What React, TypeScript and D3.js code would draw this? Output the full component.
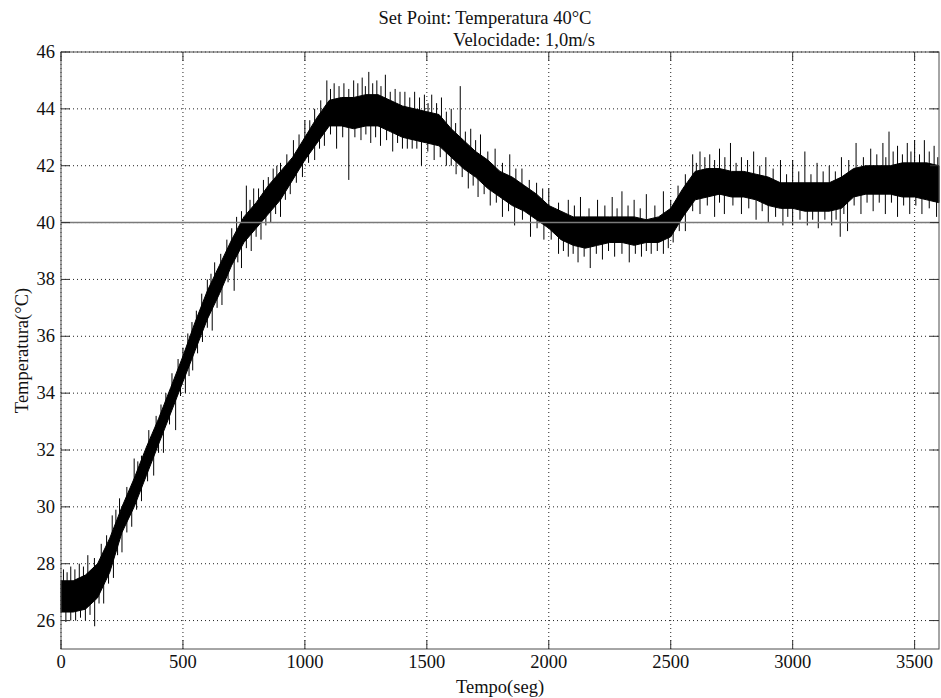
import React from "react";
import * as d3 from "d3";

const W = 941;
const H = 698;
const margin = { top: 52, right: 2, bottom: 49, left: 61 };
const font = "'Liberation Serif', 'Times New Roman', serif";

// tempo (s) and the dense core of the measured signal (min / max per step)
const tempo = [
  0, 50, 100, 150, 200, 250, 300, 350, 400, 450, 500, 550, 600, 650, 700, 750,
  800, 850, 900, 950, 1000, 1050, 1100, 1150, 1200, 1250, 1300, 1350, 1400,
  1450, 1500, 1550, 1600, 1650, 1700, 1750, 1800, 1850, 1900, 1950, 2000, 2050,
  2100, 2150, 2200, 2250, 2300, 2350, 2400, 2450, 2500, 2550, 2600, 2650, 2700,
  2750, 2800, 2850, 2900, 2950, 3000, 3050, 3100, 3150, 3200, 3250, 3300, 3350,
  3400, 3450, 3500, 3550, 3600,
];
const tempMax = [
  27.4, 27.4, 27.6, 28.0, 28.9, 30.0, 31.0, 32.1, 33.1, 34.2, 35.3, 36.5, 37.6,
  38.5, 39.4, 40.2, 40.7, 41.3, 41.8, 42.3, 43.0, 43.7, 44.3, 44.4, 44.4, 44.5,
  44.5, 44.3, 44.1, 44.0, 43.9, 43.8, 43.3, 42.9, 42.5, 42.2, 41.8, 41.6, 41.3,
  41.0, 40.6, 40.4, 40.2, 40.2, 40.2, 40.2, 40.2, 40.2, 40.1, 40.2, 40.5, 41.2,
  41.8, 41.9, 41.9, 41.8, 41.8, 41.7, 41.6, 41.4, 41.4, 41.4, 41.4, 41.4, 41.6,
  41.9, 42.0, 42.0, 42.0, 42.1, 42.1, 42.1, 42.0,
];
const tempMin = [
  26.3, 26.3, 26.4, 26.8, 27.7, 29.1, 30.0, 31.1, 32.2, 33.3, 34.4, 35.5, 36.6,
  37.5, 38.5, 39.3, 39.8, 40.3, 40.8, 41.5, 42.2, 42.8, 43.4, 43.4, 43.3, 43.4,
  43.4, 43.2, 43.0, 42.9, 42.8, 42.7, 42.3, 41.9, 41.6, 41.2, 40.9, 40.6, 40.4,
  40.1, 39.8, 39.4, 39.2, 39.1, 39.2, 39.3, 39.3, 39.2, 39.3, 39.3, 39.5, 40.2,
  40.8, 40.9, 41.0, 40.9, 40.9, 40.8, 40.6, 40.5, 40.5, 40.4, 40.4, 40.4, 40.5,
  40.9, 41.0, 41.0, 41.0, 40.9, 40.9, 40.8, 40.7,
];

// big noise spikes that stick out of the core (upwards)
const picoAltoTempo = [
  10, 40, 75, 110, 165, 210, 240, 300, 330, 390, 430, 480, 520, 555, 600, 630,
  680, 720, 760, 790, 830, 870, 900, 953, 1000, 1040, 1090, 1120, 1160, 1200,
  1235, 1262, 1295, 1330, 1370, 1410, 1450, 1490, 1520, 1560, 1600, 1637, 1680,
  1720, 1780, 1840, 1890, 1950, 2000, 2080, 2130, 2200, 2260, 2300, 2350, 2400,
  2470, 2530, 2590, 2620, 2660, 2700, 2745, 2790, 2840, 2890, 2950, 3000, 3050,
  3100, 3150, 3200, 3260, 3320, 3370, 3395, 3430, 3470, 3500, 3540, 3580,
];
const picoAltoValor = [
  27.8, 27.9, 28.0, 28.3, 28.7, 29.7, 30.3, 31.7, 31.8, 33.2, 34.0, 35.2, 36.1,
  36.9, 38.0, 38.6, 39.4, 40.2, 41.3, 41.2, 41.5, 41.9, 42.1, 42.9, 43.6, 44.0,
  45.0, 44.9, 44.9, 45.0, 45.1, 45.3, 45.0, 45.2, 44.7, 44.6, 44.6, 44.5, 44.5,
  44.4, 44.0, 44.8, 43.3, 43.1, 42.6, 42.4, 41.9, 41.4, 41.2, 40.8, 40.9, 40.8,
  40.9, 41.1, 40.8, 41.0, 41.1, 41.3, 42.4, 42.5, 42.4, 42.6, 42.8, 42.3, 42.5,
  42.3, 42.2, 42.2, 42.5, 42.1, 42.0, 42.3, 42.8, 42.6, 42.8, 43.2, 42.7, 42.8,
  42.9, 42.9, 42.7,
];

// big noise spikes that stick out of the core (downwards)
const picoBaixoTempo = [
  20, 60, 100, 138, 175, 215, 250, 290, 330, 380, 420, 470, 510, 540, 580, 620,
  660, 710, 740, 780, 820, 860, 900, 940, 990, 1040, 1080, 1130, 1180, 1230,
  1270, 1310, 1360, 1400, 1440, 1478, 1530, 1580, 1620, 1670, 1710, 1760, 1810,
  1860, 1925, 1980, 2040, 2080, 2120, 2170, 2220, 2270, 2330, 2380, 2420, 2470,
  2510, 2560, 2620, 2680, 2720, 2790, 2850, 2900, 2960, 3000, 3060, 3105, 3160,
  3195, 3225, 3280, 3330, 3380, 3430, 3480, 3530, 3590,
];
const picoBaixoValor = [
  25.95, 26.0, 26.0, 25.8, 26.6, 27.5, 28.4, 29.3, 30.2, 31.1, 31.9, 32.7, 34.0,
  34.8, 35.8, 36.2, 37.1, 37.6, 38.4, 39.0, 39.4, 40.0, 40.2, 41.0, 41.6, 42.2,
  42.7, 42.6, 41.5, 42.9, 42.8, 42.7, 42.5, 42.6, 42.6, 42.0, 42.2, 42.0, 41.7,
  41.2, 40.9, 40.6, 40.2, 39.9, 39.5, 39.4, 38.9, 38.8, 38.6, 38.4, 38.7, 38.8,
  38.6, 38.8, 38.9, 38.9, 39.3, 39.7, 40.3, 40.2, 40.3, 40.3, 40.1, 40.0, 39.9,
  39.9, 39.9, 39.8, 39.9, 39.5, 39.7, 40.3, 40.4, 40.3, 40.2, 40.3, 40.3, 40.2,
];

// small hairs on the upper edge of the core
const ruidoAltoTempo = [
  25, 57, 92, 137, 187, 225, 270, 315, 360, 410, 455, 500, 537, 577, 615, 655,
  700, 740, 775, 810, 850, 885, 926, 976, 1020, 1065, 1105, 1140, 1180, 1217,
  1248, 1278, 1312, 1350, 1390, 1430, 1470, 1505, 1540, 1580, 1618, 1658, 1700,
  1750, 1810, 1865, 1920, 1975, 2040, 2105, 2165, 2230, 2280, 2325, 2375, 2435,
  2500, 2560, 2605, 2640, 2680, 2722, 2768, 2815, 2865, 2920, 2975, 3025, 3075,
  3125, 3175, 3230, 3290, 3345, 3382, 3412, 3450, 3485, 3520, 3560, 3595,
];
const ruidoAltoValor = [
  27.7, 27.8, 27.9, 28.2, 29.0, 29.9, 30.7, 31.6, 32.7, 33.6, 34.7, 35.6, 36.5,
  37.5, 38.2, 38.9, 39.8, 40.4, 40.8, 41.2, 41.6, 42.0, 42.4, 43.1, 43.6, 44.3,
  44.7, 44.8, 44.7, 44.9, 44.8, 44.9, 44.8, 44.6, 44.6, 44.4, 44.4, 44.2, 44.2,
  43.9, 43.5, 43.2, 42.9, 42.5, 42.1, 41.9, 41.5, 41.2, 40.7, 40.6, 40.5, 40.6,
  40.5, 40.6, 40.5, 40.6, 40.8, 41.7, 42.1, 42.3, 42.2, 42.3, 42.1, 42.2, 42.0,
  41.9, 41.7, 41.8, 41.7, 41.8, 41.8, 42.2, 42.3, 42.4, 42.3, 42.5, 42.4, 42.5,
  42.4, 42.5, 42.3,
];

// small hairs on the lower edge of the core
const ruidoBaixoTempo = [
  40, 80, 119, 156, 195, 232, 270, 310, 355, 400, 445, 490, 525, 560, 600, 640,
  685, 725, 760, 800, 840, 880, 920, 965, 1015, 1060, 1105, 1155, 1205, 1250,
  1290, 1335, 1380, 1420, 1459, 1504, 1555, 1600, 1645, 1690, 1735, 1785, 1835,
  1892, 1952, 2010, 2060, 2100, 2145, 2195, 2245, 2300, 2355, 2400, 2445, 2490,
  2535, 2590, 2650, 2700, 2755, 2820, 2875, 2930, 2980, 3030, 3082, 3132, 3178,
  3210, 3252, 3305, 3355, 3405, 3455, 3505, 3560,
];
const ruidoBaixoValor = [
  26.0, 26.1, 26.2, 26.6, 27.3, 28.3, 29.1, 29.9, 30.9, 31.9, 32.9, 33.9, 34.6,
  35.4, 36.3, 37.0, 37.9, 38.6, 39.1, 39.5, 39.9, 40.3, 40.8, 41.4, 42.1, 42.6,
  43.1, 43.0, 43.0, 43.1, 43.0, 42.9, 42.8, 42.6, 42.6, 42.5, 42.3, 42.0, 41.6,
  41.3, 41.0, 40.7, 40.4, 40.1, 39.8, 39.4, 39.0, 38.9, 38.8, 38.9, 39.0, 38.9,
  38.9, 39.0, 39.0, 39.1, 39.7, 40.4, 40.6, 40.7, 40.6, 40.5, 40.4, 40.2, 40.2,
  40.1, 40.1, 40.1, 40.1, 40.3, 40.6, 40.7, 40.7, 40.7, 40.6, 40.6, 40.5,
];

const xTicks = [0, 500, 1000, 1500, 2000, 2500, 3000, 3500];
const yTicks = [26, 28, 30, 32, 34, 36, 38, 40, 42, 44, 46];
const setPoint = 40;

export default function App() {
  const x = d3
    .scaleLinear()
    .domain([0, 3600])
    .range([margin.left, W - margin.right]);
  const y = d3
    .scaleLinear()
    .domain([25, 46])
    .range([H - margin.bottom, margin.top]);

  const band = d3
    .area<number>()
    .x((d, i) => x(tempo[i]))
    .y0((d, i) => y(tempMin[i]))
    .y1((d) => y(d));

  // middle of the core, used as the foot of every spike
  const mid = d3
    .scaleLinear()
    .domain(tempo)
    .range(tempo.map((t, i) => (tempMax[i] + tempMin[i]) / 2));

  const spikes = [
    ...picoAltoTempo.map((t, i) => [t, picoAltoValor[i]]),
    ...picoBaixoTempo.map((t, i) => [t, picoBaixoValor[i]]),
  ];
  const hairs = [
    ...ruidoAltoTempo.map((t, i) => [t, ruidoAltoValor[i]]),
    ...ruidoBaixoTempo.map((t, i) => [t, ruidoBaixoValor[i]]),
  ];

  const x0 = margin.left;
  const x1 = W - margin.right;
  const y0 = H - margin.bottom;
  const y1 = margin.top;
  const tick = 9;

  return (
    <svg
      width={W}
      height={H}
      style={{ position: "absolute", left: 0, top: 0, background: "#fff" }}
      fontFamily={font}
    >
      {/* grid */}
      <g stroke="#222" strokeWidth={1} strokeDasharray="1,3">
        {xTicks.map((t) => (
          <line key={"gx" + t} x1={x(t)} x2={x(t)} y1={y1} y2={y0} />
        ))}
        {yTicks.map((t) => (
          <line key={"gy" + t} x1={x0} x2={x1} y1={y(t)} y2={y(t)} />
        ))}
      </g>

      {/* measured temperature */}
      <path d={band(tempMax) || ""} fill="#000" stroke="#000" strokeWidth={1} />
      <g stroke="#000" strokeWidth={1}>
        {spikes.map(([t, v], i) => (
          <line key={"s" + i} x1={x(t)} x2={x(t)} y1={y(mid(t))} y2={y(v)} />
        ))}
        {hairs.map(([t, v], i) => (
          <line key={"h" + i} x1={x(t)} x2={x(t)} y1={y(mid(t))} y2={y(v)} />
        ))}
      </g>

      {/* set point */}
      <line
        x1={x0}
        x2={x1}
        y1={y(setPoint)}
        y2={y(setPoint)}
        stroke="#7a7a7a"
        strokeWidth={1.6}
      />

      {/* box and ticks */}
      <rect
        x={x0}
        y={y1}
        width={x1 - x0}
        height={y0 - y1}
        fill="none"
        stroke="#4d4d4d"
        strokeWidth={1}
      />
      <g stroke="#333" strokeWidth={1}>
        {xTicks.map((t) => (
          <g key={"tx" + t}>
            <line x1={x(t)} x2={x(t)} y1={y0} y2={y0 - tick} />
            <line x1={x(t)} x2={x(t)} y1={y1} y2={y1 + tick} />
          </g>
        ))}
        {yTicks.map((t) => (
          <g key={"ty" + t}>
            <line x1={x0} x2={x0 + tick} y1={y(t)} y2={y(t)} />
            <line x1={x1} x2={x1 - tick} y1={y(t)} y2={y(t)} />
          </g>
        ))}
      </g>

      {/* tick labels */}
      <g fontSize={18.5} fill="#111">
        {xTicks.map((t) => (
          <text key={"lx" + t} x={x(t)} y={y0 + 19} textAnchor="middle">
            {t}
          </text>
        ))}
        {yTicks.map((t) => (
          <text
            key={"ly" + t}
            x={x0 - 6}
            y={y(t)}
            textAnchor="end"
            dominantBaseline="central"
          >
            {t}
          </text>
        ))}
      </g>

      {/* titles */}
      <g fontSize={18.5} fill="#111">
        <text x={485} y={24} textAnchor="middle">
          Set Point: Temperatura 40°C
        </text>
        <text x={524} y={46} textAnchor="middle">
          Velocidade: 1,0m/s
        </text>
        <text x={(x0 + x1) / 2} y={693} textAnchor="middle">
          Tempo(seg)
        </text>
        <text
          transform={`translate(28,${(y0 + y1) / 2}) rotate(-90)`}
          textAnchor="middle"
        >
          Temperatura(°C)
        </text>
      </g>
    </svg>
  );
}
